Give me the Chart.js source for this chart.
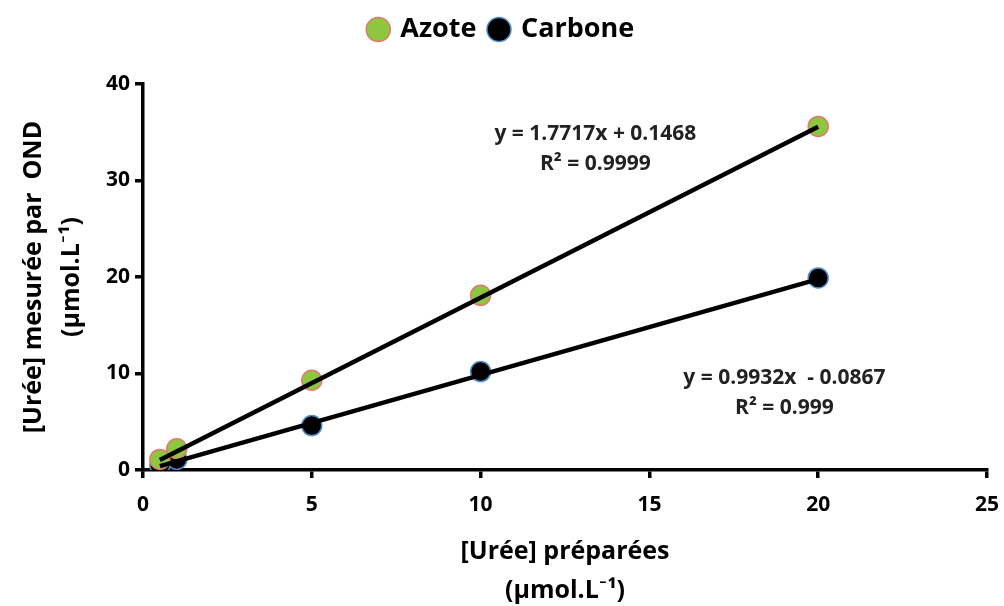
<!DOCTYPE html>
<html>
<head>
<meta charset="utf-8">
<script src="https://cdn.jsdelivr.net/npm/chart.js@4.4.1/dist/chart.umd.min.js"></script>
<style>
  html, body { margin: 0; padding: 0; background: #fff; }
  #wrap { width: 1004px; height: 606px; }
</style>
</head>
<body>
<div id="wrap"><canvas id="chart"></canvas></div>
<script>
/* Urée : OND vs préparée — calibration */

// ── Data ──────────────────────────────────────────────────────────────────
const xPrepared   = [0.5, 1, 5, 10, 20];
const azoteVals   = [1.1, 2.2, 9.3, 18.1, 35.6];
const carboneVals = [0.5, 1.1, 4.6, 10.2, 19.9];

// trend line end points
const azoteTrendX   = [0.5, 20];
const azoteTrendY   = [1.03, 35.58];
const carboneTrendX = [0.5, 20];
const carboneTrendY = [0.41, 19.78];

const xTicks = [0, 5, 10, 15, 20, 25];
const yTicks = [0, 10, 20, 30, 40];

const azoteEq   = ['y = 1.7717x + 0.1468', 'R² = 0.9999'];
const carboneEq = ['y = 0.9932x  - 0.0867', 'R² = 0.999'];

// ── Helpers ───────────────────────────────────────────────────────────────
const pts = (xs, ys) => xs.map((x, i) => ({ x, y: ys[i] }));
const FONT = '"Open Sans", Lato, "Liberation Sans", sans-serif';

// equation labels, anchored in data units
const eqLabels = [
  { lines: azoteEq,   x: 13.4, y: 34.8 },
  { lines: carboneEq, x: 19.0, y: 9.5 },
];

const eqPlugin = {
  id: 'eqLabels',
  afterDatasetsDraw(chart) {
    const { ctx, scales: { x, y } } = chart;
    ctx.save();
    ctx.fillStyle = '#222';
    ctx.font = 'bold 21px ' + FONT;
    ctx.textAlign = 'center';
    ctx.textBaseline = 'middle';
    eqLabels.forEach(l => {
      const px = x.getPixelForValue(l.x);
      const py = y.getPixelForValue(l.y);
      l.lines.forEach((t, i) => ctx.fillText(t, px, py + i * 30));
    });
    ctx.restore();
  }
};

// legend gets extra room below it
const legendPad = {
  id: 'legendPad',
  beforeInit(chart) {
    const fit = chart.legend.fit;
    chart.legend.fit = function () {
      fit.bind(chart.legend)();
      this.height += 31;
    };
  }
};

// ── Chart ─────────────────────────────────────────────────────────────────
new Chart(document.getElementById('chart'), {
  type: 'scatter',
  data: {
    datasets: [
      { label: 'trendA', data: pts(azoteTrendX, azoteTrendY), showLine: true,
        borderColor: '#000', borderWidth: 4.5, pointRadius: 0, fill: false },
      { label: 'trendC', data: pts(carboneTrendX, carboneTrendY), showLine: true,
        borderColor: '#000', borderWidth: 4.5, pointRadius: 0, fill: false },
      { label: 'Azote', data: pts(xPrepared, azoteVals),
        backgroundColor: '#8DC63F', borderColor: '#E07B6C', borderWidth: 1.5, pointRadius: 10 },
      { label: 'Carbone', data: pts(xPrepared, carboneVals),
        backgroundColor: '#000', borderColor: '#4F8FD0', borderWidth: 1.5, pointRadius: 10 },
    ]
  },
  options: {
    responsive: true,
    maintainAspectRatio: false,
    animation: false,
    layout: { padding: { left: 0, right: 0, top: 2, bottom: 4 } },
    plugins: {
      legend: {
        position: 'top',
        labels: {
          filter: item => !item.text.startsWith('trend'),
          usePointStyle: true,
          pointStyle: 'circle',
          boxWidth: 17, boxHeight: 17,
          padding: 14,
          color: '#000',
          font: { family: FONT, size: 27, weight: 'bold' }
        }
      },
      tooltip: { enabled: false }
    },
    scales: {
      x: {
        type: 'linear', min: 0, max: 25,
        afterBuildTicks: s => { s.ticks = xTicks.map(v => ({ value: v })); },
        afterFit: s => { s.height = 132; s.paddingRight = 17; },
        ticks: { color: '#000', padding: 14, font: { family: FONT, size: 21, weight: 'bold' } },
        grid: { display: true, drawOnChartArea: false, drawTicks: true, tickLength: 8, color: '#000', lineWidth: 3.5 },
        border: { display: true, color: '#000', width: 3.5 },
        title: { display: true, text: ['[Urée] préparées', '(µmol.L⁻¹)'], color: '#000',
                 font: { family: FONT, size: 25, weight: 'bold', lineHeight: 1.55 }, padding: { top: 18, bottom: -8 } }
      },
      y: {
        type: 'linear', min: 0, max: 40,
        afterBuildTicks: s => { s.ticks = yTicks.map(v => ({ value: v })); },
        afterFit: s => { s.width = 143; },
        ticks: { color: '#000', padding: 5, font: { family: FONT, size: 21, weight: 'bold' } },
        grid: { display: true, drawOnChartArea: false, drawTicks: true, tickLength: 8, color: '#000', lineWidth: 3.5 },
        border: { display: true, color: '#000', width: 3.5 },
        title: { display: true, text: ['[Urée] mesurée par  OND', '(µmol.L⁻¹)'], color: '#000',
                 font: { family: FONT, size: 25, weight: 'bold', lineHeight: 1.55 }, padding: { top: 14, bottom: 0 } }
      }
    }
  },
  plugins: [eqPlugin, legendPad]
});
</script>
</body>
</html>
